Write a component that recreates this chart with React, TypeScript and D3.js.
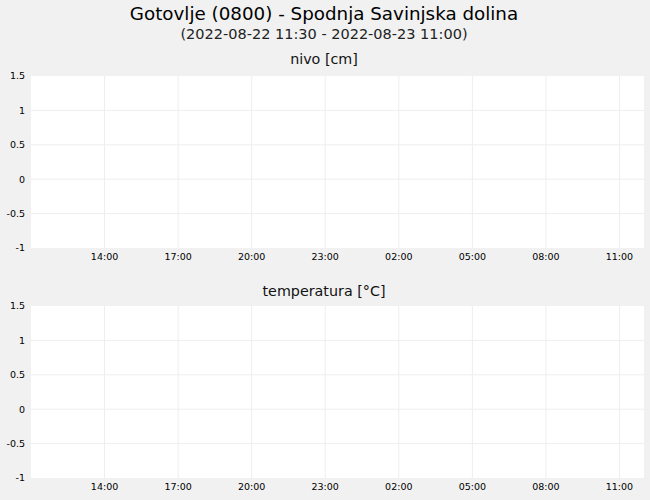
import React from "react";
import * as d3 from "d3";

const title = "Gotovlje (0800) - Spodnja Savinjska dolina";
const subtitle = "(2022-08-22 11:30 - 2022-08-23 11:00)";
const panelTitles = ["nivo [cm]", "temperatura [°C]"];
const yTicks = [-1, -0.5, 0, 0.5, 1, 1.5];
const xTickTimes = [
  "2022-08-22T14:00", "2022-08-22T17:00", "2022-08-22T20:00", "2022-08-22T23:00",
  "2022-08-23T02:00", "2022-08-23T05:00", "2022-08-23T08:00", "2022-08-23T11:00",
];
const xDomain = ["2022-08-22T11:00", "2022-08-23T12:00"];
const nivoValues: { t: string; v: number }[] = [];
const temperaturaValues: { t: string; v: number }[] = [];

const W = 650;
const H = 500;
const left = 31;
const right = 644;
const panels = [
  { top: 76, bottom: 248, title: panelTitles[0], titleY: 64, data: nivoValues },
  { top: 306, bottom: 478, title: panelTitles[1], titleY: 296, data: temperaturaValues },
];
const font = "DejaVu Sans, sans-serif";

export default function App() {
  const parse = (s: string) => new Date(s);
  const x = d3.scaleTime().domain(xDomain.map(parse)).range([left, right]);
  const fmt = d3.timeFormat("%H:%M");
  return (
    <svg width={W} height={H} style={{ position: "absolute", left: 0, top: 0 }} fontFamily={font}>
      <rect x={0} y={0} width={W} height={H} fill="#f1f1f1" />
      <text x={324} y={20} textAnchor="middle" fontSize={18.3} fill="#000">{title}</text>
      <text x={324} y={39} textAnchor="middle" fontSize={14.5} fill="#222">{subtitle}</text>
      {panels.map((p, i) => {
        const y = d3.scaleLinear().domain([-1, 1.5]).range([p.bottom, p.top]);
        const line = d3.line<{ t: string; v: number }>().x((d) => x(parse(d.t))).y((d) => y(d.v));
        return (
          <g key={i}>
            <text x={324} y={p.titleY} textAnchor="middle" fontSize={14.3} fill="#111">{p.title}</text>
            <rect x={left} y={p.top} width={right - left} height={p.bottom - p.top} fill="#fff" />
            {yTicks.slice(1, -1).map((t) => (
              <line key={t} x1={left} x2={right} y1={y(t)} y2={y(t)} stroke="#eeeeee" strokeWidth={1} />
            ))}
            {xTickTimes.map((t) => (
              <line key={t} x1={x(parse(t))} x2={x(parse(t))} y1={p.top} y2={p.bottom} stroke="#eeeeee" strokeWidth={1} />
            ))}
            {yTicks.map((t) => (
              <text key={t} x={25} y={y(t)} dy="0.35em" textAnchor="end" fontSize={9.5} fill="#000">{String(t)}</text>
            ))}
            {xTickTimes.map((t) => (
              <text key={t} x={x(parse(t))} y={p.bottom + 9} dy="0.35em" textAnchor="middle" fontSize={9.5} fill="#000">{fmt(parse(t))}</text>
            ))}
            {p.data.length > 0 && <path d={line(p.data) || ""} fill="none" stroke="#1f77b4" />}
          </g>
        );
      })}
    </svg>
  );
}
